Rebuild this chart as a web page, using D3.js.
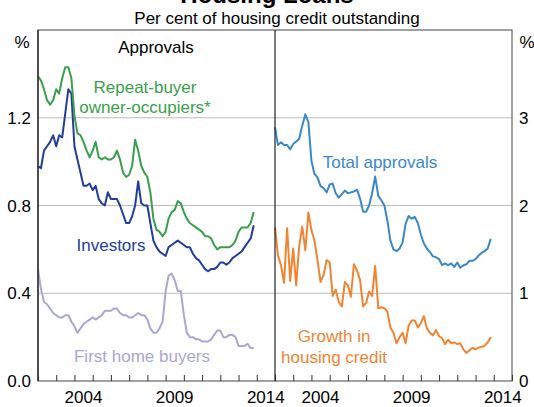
<!DOCTYPE html>
<html>
<head>
<meta charset="utf-8">
<script src="https://cdn.jsdelivr.net/npm/d3@7"></script>
<style>
  body { margin: 0; background: #fff; }
  svg { display: block; font-family: "Liberation Sans", Arial, sans-serif; }
</style>
</head>
<body>
<div id="chart"></div>
<script>
// ---- DATA (bi-monthly, Jan 2002 - Nov 2013) ----
const months = d3.range(72).map(i => new Date(2002, i * 2, 1));

// left panel: approvals, per cent of housing credit outstanding
const repeatBuyers = [1.39,1.37,1.33,1.28,1.26,1.28,1.33,1.31,1.38,1.43,1.43,1.38,1.21,1.13,1.12,1.09,1.05,1.02,1.05,1.09,
  1.02,1.01,1.02,1.01,1.01,1.02,1.05,1.01,0.95,0.93,0.94,0.98,1.10,1.05,0.98,0.95,0.93,0.86,0.74,0.69,
  0.68,0.66,0.68,0.74,0.77,0.78,0.82,0.81,0.77,0.74,0.72,0.71,0.70,0.69,0.68,0.66,0.66,0.65,0.62,0.60,
  0.61,0.61,0.61,0.61,0.62,0.64,0.68,0.70,0.70,0.70,0.72,0.77];
const investors = [0.98,0.97,1.05,1.07,1.09,1.12,1.07,1.12,1.11,1.22,1.33,1.31,1.07,1.01,0.95,0.89,0.89,0.90,0.87,0.89,
  0.83,0.81,0.80,0.86,0.83,0.83,0.83,0.80,0.76,0.72,0.72,0.75,0.80,0.91,0.81,0.80,0.80,0.72,0.64,0.61,
  0.59,0.58,0.57,0.61,0.62,0.63,0.64,0.63,0.62,0.61,0.61,0.58,0.56,0.55,0.53,0.51,0.50,0.51,0.51,0.52,
  0.54,0.54,0.53,0.54,0.56,0.57,0.58,0.59,0.61,0.63,0.65,0.71];
const firstHome = [0.51,0.42,0.36,0.35,0.33,0.31,0.30,0.29,0.29,0.30,0.30,0.27,0.25,0.22,0.24,0.26,0.27,0.28,0.29,0.28,
  0.29,0.30,0.32,0.32,0.32,0.33,0.33,0.31,0.30,0.30,0.29,0.29,0.30,0.31,0.30,0.30,0.28,0.24,0.22,0.22,
  0.24,0.27,0.41,0.48,0.49,0.46,0.41,0.41,0.30,0.22,0.20,0.20,0.19,0.19,0.18,0.18,0.18,0.19,0.21,0.23,
  0.23,0.20,0.20,0.21,0.21,0.20,0.16,0.16,0.16,0.17,0.15,0.15];

// right panel
const totalApprovals = [2.89,2.69,2.72,2.69,2.69,2.64,2.70,2.73,2.76,2.91,3.04,2.95,2.51,2.36,2.32,2.22,2.20,2.15,2.24,2.25,
  2.14,2.09,2.13,2.17,2.14,2.15,2.16,2.18,2.08,1.93,1.93,2.00,2.14,2.33,2.11,2.06,2.00,1.83,1.60,1.50,
  1.48,1.51,1.58,1.79,1.88,1.85,1.87,1.80,1.67,1.57,1.51,1.47,1.42,1.41,1.39,1.32,1.34,1.32,1.34,1.30,
  1.35,1.29,1.32,1.33,1.37,1.37,1.39,1.43,1.46,1.48,1.51,1.62];
const creditGrowth = [1.75,1.43,1.32,1.12,1.74,1.14,1.51,1.09,1.54,1.76,1.49,1.92,1.72,1.60,1.38,1.13,1.21,1.38,1.35,0.97,
  1.04,0.90,0.85,1.13,1.09,0.96,1.33,1.26,1.15,0.85,0.89,1.02,0.97,1.31,0.83,0.84,0.83,0.79,0.61,0.55,
  0.43,0.50,0.55,0.43,0.63,0.69,0.69,0.61,0.66,0.74,0.60,0.55,0.52,0.58,0.51,0.49,0.42,0.47,0.43,0.44,
  0.42,0.43,0.36,0.32,0.35,0.38,0.36,0.38,0.39,0.40,0.44,0.50];

const leftTicks = [0, 0.4, 0.8, 1.2];
const leftTickLabels = ["0.0", "0.4", "0.8", "1.2"];
const rightTicks = [0, 1, 2, 3];
const yearLabels = [2004, 2009, 2014];

// ---- SETUP ----
const W = 534, H = 407;
const plot = { left: 38, mid: 275, right: 512, top: 30, bottom: 381 };

const svg = d3.select("#chart").append("svg")
  .attr("width", W).attr("height", H);

const xDomain = [new Date(2002, 0, 1), new Date(2015, 0, 1)];
const xLeft = d3.scaleTime().domain(xDomain).range([plot.left, plot.mid]);
const xRight = d3.scaleTime().domain(xDomain).range([plot.mid, plot.right]);
const yLeft = d3.scaleLinear().domain([0, 1.6]).range([plot.bottom, plot.top]);
const yRight = d3.scaleLinear().domain([0, 4]).range([plot.bottom, plot.top]);

// ---- titles ----
svg.append("text")
  .attr("x", 267).attr("y", 3)
  .attr("text-anchor", "middle")
  .style("font-size", "24px").style("font-weight", "bold")
  .text("Housing Loans");

svg.append("text")
  .attr("x", 277).attr("y", 24)
  .attr("text-anchor", "middle")
  .style("font-size", "17px")
  .text("Per cent of housing credit outstanding");

// ---- gridlines ----
svg.append("g").selectAll("line")
  .data(leftTicks.filter(d => d > 0))
  .enter().append("line")
  .attr("x1", plot.left).attr("x2", plot.right)
  .attr("y1", d => yLeft(d)).attr("y2", d => yLeft(d))
  .style("stroke", "#bcbcbc").style("stroke-width", 1);

// ---- x ticks (inside, every year) ----
function addXAxis(x) {
  const axis = d3.axisBottom(x)
    .ticks(d3.timeYear.every(1))
    .tickSize(-6)
    .tickFormat("");
  const g = svg.append("g")
    .attr("transform", `translate(0,${plot.bottom})`)
    .call(axis);
  g.select(".domain").remove();
  g.selectAll(".tick line").style("stroke", "#333");

  svg.append("g").selectAll("text")
    .data(yearLabels)
    .enter().append("text")
    .attr("x", d => x(new Date(d, 6, 1)))
    .attr("y", 403)
    .attr("text-anchor", "middle")
    .style("font-size", "17px")
    .text(d => d);
}
addXAxis(xLeft);
addXAxis(xRight);

// ---- y labels ----
svg.append("g").selectAll("text")
  .data(leftTicks)
  .enter().append("text")
  .attr("x", 31).attr("y", d => yLeft(d))
  .attr("dy", "0.36em")
  .attr("text-anchor", "end")
  .style("font-size", "17px")
  .text((d, i) => leftTickLabels[i]);

svg.append("g").selectAll("text")
  .data(rightTicks)
  .enter().append("text")
  .attr("x", 519).attr("y", d => yRight(d))
  .attr("dy", "0.36em")
  .style("font-size", "17px")
  .text(d => d);

svg.append("text").attr("x", 22).attr("y", 48).attr("text-anchor", "middle")
  .style("font-size", "17px").text("%");
svg.append("text").attr("x", 527).attr("y", 48).attr("text-anchor", "middle")
  .style("font-size", "17px").text("%");

// ---- LINES ----
function drawLine(values, x, y, color) {
  const line = d3.line()
    .x((d, i) => x(months[i]))
    .y(d => y(d));
  svg.append("path")
    .datum(values)
    .attr("d", line)
    .style("fill", "none")
    .style("stroke", color)
    .style("stroke-width", 2)
    .style("stroke-linejoin", "round");
}

drawLine(firstHome, xLeft, yLeft, "#a9a7d3");
drawLine(investors, xLeft, yLeft, "#233c9c");
drawLine(repeatBuyers, xLeft, yLeft, "#3a9f4c");
drawLine(creditGrowth, xRight, yRight, "#f08433");
drawLine(totalApprovals, xRight, yRight, "#3b88c9");

// ---- frame ----
svg.append("rect")
  .attr("x", plot.left).attr("y", plot.top)
  .attr("width", plot.right - plot.left).attr("height", plot.bottom - plot.top)
  .style("fill", "none").style("stroke", "#444").style("stroke-width", 1);
svg.append("line")
  .attr("x1", plot.mid).attr("x2", plot.mid)
  .attr("y1", plot.top).attr("y2", plot.bottom)
  .style("stroke", "#222").style("stroke-width", 1.2);
svg.append("line")
  .attr("x1", plot.left).attr("x2", plot.left)
  .attr("y1", plot.top).attr("y2", plot.bottom)
  .style("stroke", "#333").style("stroke-width", 1.5);

// ---- series labels ----
const labels = [
  { text: "Approvals", x: 156, y: 53, color: "#000" },
  { text: "Repeat-buyer", x: 145, y: 93, color: "#3a9f4c" },
  { text: "owner-occupiers*", x: 145, y: 113, color: "#3a9f4c" },
  { text: "Investors", x: 111, y: 251, color: "#233c9c" },
  { text: "First home buyers", x: 142, y: 362, color: "#a9a7d3" },
  { text: "Total approvals", x: 380, y: 168, color: "#3b88c9" },
  { text: "Growth in", x: 334, y: 342, color: "#f08433" },
  { text: "housing credit", x: 334, y: 363, color: "#f08433" }
];

svg.append("g").selectAll("text")
  .data(labels)
  .enter().append("text")
  .attr("x", d => d.x).attr("y", d => d.y)
  .attr("text-anchor", "middle")
  .style("font-size", "17px")
  .style("fill", d => d.color)
  .text(d => d.text);
</script>
</body>
</html>
